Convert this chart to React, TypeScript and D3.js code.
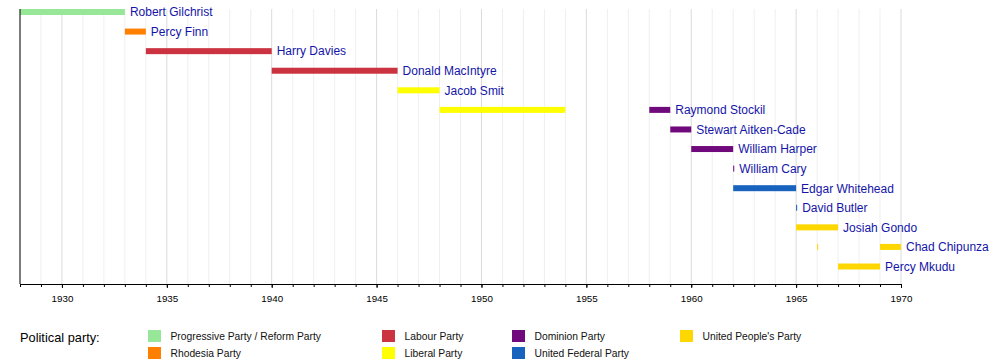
import * as d3 from "d3";
import { useEffect, useRef } from "react";

const leaders = [
  "Robert Gilchrist",
  "Percy Finn",
  "Harry Davies",
  "Donald MacIntyre",
  "Jacob Smit",
  "Raymond Stockil",
  "Stewart Aitken-Cade",
  "William Harper",
  "William Cary",
  "Edgar Whitehead",
  "David Butler",
  "Josiah Gondo",
  "Chad Chipunza",
  "Percy Mkudu",
];

const parties = [
  "Progressive Party / Reform Party",
  "Rhodesia Party",
  "Labour Party",
  "Liberal Party",
  "Dominion Party",
  "United Federal Party",
  "United People's Party",
];

const partyColors = [
  "#98e698",
  "#ff8000",
  "#cc3340",
  "#ffff00",
  "#700a7c",
  "#1763bd",
  "#ffd700",
];

// leader, from, till, party
const termLeader = [
  "Robert Gilchrist",
  "Percy Finn",
  "Harry Davies",
  "Donald MacIntyre",
  "Jacob Smit",
  "Raymond Stockil",
  "Raymond Stockil",
  "Stewart Aitken-Cade",
  "William Harper",
  "William Cary",
  "Edgar Whitehead",
  "David Butler",
  "Josiah Gondo",
  "Chad Chipunza",
  "Chad Chipunza",
  "Percy Mkudu",
];
const termFrom = [1928, 1933, 1934, 1940, 1946, 1948, 1958, 1959, 1960, 1962, 1962, 1965, 1965, 1966, 1969, 1967];
const termTill = [1933, 1934, 1940, 1946, 1948, 1954, 1959, 1960, 1962, 1962.05, 1965, 1965.05, 1967, 1966.05, 1970, 1969];
const termParty = [
  "Progressive Party / Reform Party",
  "Rhodesia Party",
  "Labour Party",
  "Labour Party",
  "Liberal Party",
  "Liberal Party",
  "Dominion Party",
  "Dominion Party",
  "Dominion Party",
  "Dominion Party",
  "United Federal Party",
  "United Federal Party",
  "United People's Party",
  "United People's Party",
  "United People's Party",
  "United People's Party",
];

const yearStart = 1928;
const yearEnd = 1970;

const font = "'Liberation Sans', Arial, sans-serif";

function drawTimeline(element) {
  d3.select(element).selectAll("*").remove();

  const width = 1000;
  const height = 363;
  const plotTop = 9;
  const axisY = 284;

  const x = d3.scaleLinear().domain([yearStart, yearEnd]).range([20, 901]);
  const y = d3.scalePoint().domain(leaders).range([12, 266.5]);
  const color = d3.scaleOrdinal().domain(parties).range(partyColors);

  const svg = d3
    .select(element)
    .append("svg")
    .attr("width", width)
    .attr("height", height)
    .style("position", "absolute")
    .style("left", 0)
    .style("top", 0)
    .style("font-family", font);

  const years = d3.range(yearStart, yearEnd + 1);

  // grid lines
  svg
    .append("g")
    .selectAll("line")
    .data(years.filter((d) => d % 5 !== 0))
    .join("line")
    .attr("x1", (d) => x(d))
    .attr("x2", (d) => x(d))
    .attr("y1", plotTop)
    .attr("y2", axisY)
    .attr("stroke", "#efefef")
    .attr("stroke-width", 1);

  svg
    .append("g")
    .selectAll("line")
    .data(years.filter((d) => d % 5 === 0))
    .join("line")
    .attr("x1", (d) => x(d))
    .attr("x2", (d) => x(d))
    .attr("y1", plotTop)
    .attr("y2", axisY)
    .attr("stroke", "#dadada")
    .attr("stroke-width", 1);

  // bars
  const terms = termLeader.map((name, i) => ({
    name,
    from: termFrom[i],
    till: termTill[i],
    party: termParty[i],
  }));

  svg
    .append("g")
    .selectAll("rect")
    .data(terms)
    .join("rect")
    .attr("x", (d) => x(d.from))
    .attr("width", (d) => Math.max(1, x(d.till) - x(d.from)))
    .attr("y", (d) => y(d.name) - 3)
    .attr("height", 6)
    .attr("fill", (d) => color(d.party));

  // labels after the last bar of each row
  const lastEnd = d3.rollup(
    terms,
    (v) => d3.max(v, (d) => d.till),
    (d) => d.name
  );

  svg
    .append("g")
    .selectAll("text")
    .data(leaders)
    .join("text")
    .attr("x", (d) => x(lastEnd.get(d)) + 5)
    .attr("y", (d) => y(d))
    .attr("dy", "0.36em")
    .attr("font-size", 12)
    .attr("fill", "#1414a8")
    .text((d) => d);

  // left line
  svg
    .append("line")
    .attr("x1", x(yearStart))
    .attr("x2", x(yearStart))
    .attr("y1", plotTop)
    .attr("y2", axisY)
    .attr("stroke", "#000");

  // minor ticks
  svg
    .append("g")
    .attr("transform", "translate(0," + axisY + ")")
    .call(
      d3
        .axisBottom(x)
        .tickValues(years)
        .tickSize(3)
        .tickFormat(() => "")
    )
    .call((g) => g.select(".domain").remove());

  // major axis
  svg
    .append("g")
    .attr("transform", "translate(0," + axisY + ")")
    .call(
      d3
        .axisBottom(x)
        .tickValues(years.filter((d) => d % 5 === 0 && d > yearStart))
        .tickSize(4)
        .tickPadding(7)
        .tickFormat(d3.format("d"))
        .tickSizeOuter(0)
    )
    .call((g) =>
      g
        .selectAll("text")
        .attr("font-size", 9.8)
        .attr("font-family", font)
        .attr("fill", "#000")
    );

  // legend
  svg
    .append("text")
    .attr("x", 20)
    .attr("y", 337)
    .attr("dy", "0.36em")
    .attr("font-size", 12.8)
    .attr("fill", "#000")
    .text("Political party:");

  const legendCols = [148, 382, 512, 680];
  const legendRows = [336, 353];

  const legend = svg
    .append("g")
    .selectAll("g")
    .data(parties)
    .join("g")
    .attr(
      "transform",
      (d, i) =>
        "translate(" + legendCols[Math.floor(i / 2)] + "," + legendRows[i % 2] + ")"
    );

  legend
    .append("rect")
    .attr("x", 0)
    .attr("y", -6)
    .attr("width", 13)
    .attr("height", 12)
    .attr("fill", (d) => color(d));

  legend
    .append("text")
    .attr("x", 22.5)
    .attr("y", 0)
    .attr("dy", "0.36em")
    .attr("font-size", 10.3)
    .attr("fill", "#111")
    .text((d) => d);
}

export default function App() {
  const ref = useRef(null);

  useEffect(() => {
    drawTimeline(ref.current);
  }, []);

  return <div ref={ref} style={{ width: 1000, height: 363 }} />;
}
